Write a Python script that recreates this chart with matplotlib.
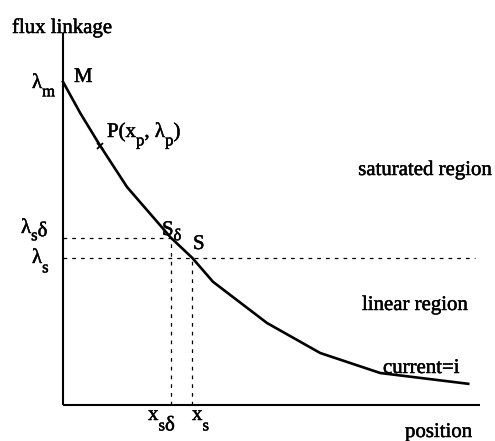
import numpy as np
import matplotlib
matplotlib.use('Agg')
import matplotlib.pyplot as plt
import matplotlib.transforms as mtransforms
import matplotlib.patheffects as pe

plt.rcParams['font.family'] = ['Liberation Serif', 'DejaVu Serif']

# flux linkage vs position at constant current i
position = [0.0, 0.43, 0.93, 1.6, 2.7, 3.23, 3.75, 5.1, 6.43, 7.93, 10.13]
flux = [8.08, 7.3, 6.48, 5.45, 4.18, 3.68, 3.08, 2.05, 1.3, 0.8, 0.53]

x_p, lam_p = 0.93, 6.48      # operating point P
x_sd, lam_sd = 2.7, 4.18     # S_delta
x_s, lam_s = 3.23, 3.68      # saturation point S
lam_m = 8.08                 # M
x_end, y_end = 10.43, 9.3    # axis lengths

DPI = 100
fs = 15
ink = [pe.withStroke(linewidth=0.35, foreground='black')]

fig = plt.figure(figsize=(4.95, 4.41), dpi=DPI)
ax = fig.add_axes([0, 0, 1, 1])
ax.set_xlim(-1.575, 10.8)
ax.set_ylim(-0.9, 10.125)
ax.axis('off')
renderer = fig.canvas.get_renderer()


def label(x, y, parts, size=fs):
    # parts: (text, scale, drop) -> drop is in fractions of the font size
    dx = 0.0
    for s, scale, drop in parts:
        tr = mtransforms.offset_copy(ax.transData, fig, x=dx, y=-drop * size, units='points')
        t = ax.text(x, y, s, transform=tr, fontsize=size * scale,
                    va='baseline', ha='left', path_effects=ink)
        dx += t.get_window_extent(renderer).width * 72.0 / DPI


def plain(x, y, s):
    label(x, y, [(s, 1, 0)])


# axes
ax.plot([0, 0], [0, y_end], color='black', lw=1.5, solid_capstyle='butt')
ax.plot([0, x_end], [0, 0], color='black', lw=1.5, solid_capstyle='butt')

# curve
ax.plot(position, flux, color='black', lw=1.9)
ax.plot([x_p], [lam_p], marker='x', color='black', ms=4, mew=1.3)

# dashed guides
dash = dict(color='black', lw=0.9, linestyle=(0, (3, 4)))
ax.plot([0, x_sd], [lam_sd, lam_sd], **dash)
ax.plot([0, 10.3], [lam_s, lam_s], **dash)
ax.plot([x_sd, x_sd], [0, lam_sd], **dash)
ax.plot([x_s, x_s], [0, lam_s], **dash)

sub = 0.8
plain(-1.275, 9.3, 'flux linkage')
plain(0.275, 8.075, 'M')
label(-0.775, 7.925, [('\u03bb', 1, 0), ('m', sub, 0.4)])
label(1.1, 6.7, [('P(x', 1, 0), ('p', sub, 0.4), (', \u03bb', 1, 0), ('p', sub, 0.4), (')', 1, 0)])
plain(7.38, 5.75, 'saturated region')
label(2.475, 4.25, [('S', 1, 0), ('\u03b4', sub, 0.25)])
plain(3.25, 3.9, 'S')
label(-1.05, 4.3, [('\u03bb', 1, 0), ('s', sub, 0.35), ('\u03b4', 1, 0.15)])
label(-0.775, 3.55, [('\u03bb', 1, 0), ('s', sub, 0.45)])
plain(7.475, 2.375, 'linear region')
plain(8.0, 0.8, 'current=i')
label(2.125, -0.375, [('x', 1, 0), ('s', sub, 0.5), ('\u03b4', 1, 0.5)])
label(3.225, -0.375, [('x', 1, 0), ('s', sub, 0.5)])
plain(8.55, -0.8, 'position')

fig.savefig('out.png', dpi=DPI)
